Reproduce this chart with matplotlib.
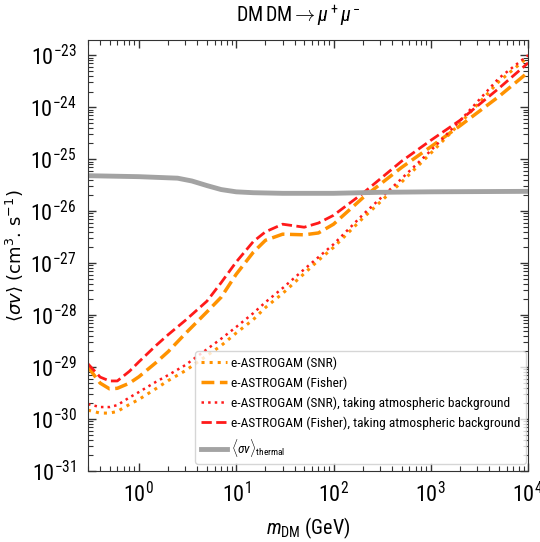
import numpy as np
import matplotlib
matplotlib.use("Agg")
import matplotlib.pyplot as plt
from matplotlib.ticker import LogLocator, NullFormatter

NARROW = "Roboto Condensed"
plt.rcParams["font.family"] = [NARROW, "DejaVu Sans"]
plt.rcParams["mathtext.fontset"] = "custom"
plt.rcParams["mathtext.rm"] = NARROW
plt.rcParams["mathtext.it"] = NARROW + ":italic"
plt.rcParams["mathtext.bf"] = NARROW + ":bold"

# Dark-matter mass grid (GeV)
mass = [0.3, 0.4, 0.5, 0.6, 0.8, 1.0, 1.5, 2.0, 3.0, 5.0, 7.0, 10.0, 15.0, 20.0,
        30.0, 50.0, 70.0, 100.0, 200.0, 500.0, 1000.0, 2000.0, 5000.0, 10000.0]

# Upper limits on <sigma v> (cm^3 s^-1)
snr = [1.48e-30, 1.30e-30, 1.30e-30, 1.40e-30, 1.91e-30, 2.38e-30, 3.85e-30,
       5.48e-30, 8.5e-30, 1.66e-29, 2.58e-29, 4.52e-29, 8.2e-29, 1.4e-28,
       2.6e-28, 6.3e-28, 1.13e-27, 2.0e-27, 7.3e-27, 3.6e-26, 1.3e-25,
       4.9e-25, 3.1e-24, 9.2e-24]
fisher = [1.0e-29, 4.9e-30, 3.8e-30, 3.9e-30, 4.9e-30, 6.5e-30, 1.22e-29,
          1.98e-29, 4.4e-29, 1.15e-28, 2.2e-28, 6.1e-28, 1.62e-27, 2.75e-27,
          3.6e-27, 3.5e-27, 3.8e-27, 5.6e-27, 1.8e-26, 6.9e-26, 1.73e-25,
          4.4e-25, 1.6e-24, 4.7e-24]
snr_atm = [1.93e-30, 1.70e-30, 1.70e-30, 1.85e-30, 2.6e-30, 3.3e-30, 5.2e-30,
           7.0e-30, 1.09e-29, 2.2e-29, 3.5e-29, 5.9e-29, 1.09e-28, 1.77e-28,
           3.3e-28, 7.6e-28, 1.3e-27, 2.3e-27, 8.5e-27, 4.2e-26, 1.46e-25,
           5.5e-25, 3.6e-24, 1.0e-23]
fisher_atm = [1.15e-29, 6.4e-30, 5.4e-30, 5.4e-30, 8.3e-30, 1.26e-29, 2.6e-29,
              4.2e-29, 7.9e-29, 1.85e-28, 4.2e-28, 1.05e-27, 2.6e-27, 4.0e-27,
              5.6e-27, 4.9e-27, 5.9e-27, 8.3e-27, 2.2e-26, 9.1e-26, 2.3e-25,
              5.6e-25, 2.3e-24, 7.1e-24]

# Thermal-relic cross section
thermal_mass = [0.3, 1.0, 2.5, 3.5, 5.0, 7.0, 10.0, 15.0, 30.0, 100.0, 300.0,
                1000.0, 10000.0]
thermal_sv = [4.8e-26, 4.6e-26, 4.3e-26, 3.8e-26, 3.1e-26, 2.6e-26, 2.35e-26,
              2.26e-26, 2.2e-26, 2.2e-26, 2.3e-26, 2.35e-26, 2.4e-26]

ORANGE = "#ff9200"
RED = "#ff1a1a"

fig = plt.figure(figsize=(5.40, 5.42), dpi=100)
ax = fig.add_axes([0.163, 0.131, 0.815, 0.795])

ax.plot(mass, snr, ls=":", color=ORANGE, lw=2.2, label="e-ASTROGAM (SNR)")
ax.plot(mass, fisher, ls="--", color=ORANGE, lw=2.5, label="e-ASTROGAM (Fisher)")
ax.plot(mass, snr_atm, ls=":", color=RED, lw=1.8,
        label="e-ASTROGAM (SNR), taking atmospheric background")
ax.plot(mass, fisher_atm, ls="--", color=RED, lw=2.0,
        label="e-ASTROGAM (Fisher), taking atmospheric background")
ax.plot(thermal_mass, thermal_sv, ls="-", color="#a3a3a3", lw=3.5,
        label=r"$\langle\sigma v\rangle_{\rm thermal}$")

ax.set_xscale("log")
ax.set_yscale("log")
ax.set_xlim(0.3, 1e4)
ax.set_ylim(1e-31, 10 ** -22.71)

ax.yaxis.set_major_locator(LogLocator(base=10, numticks=20))
ax.yaxis.set_minor_locator(LogLocator(base=10, subs=np.arange(2, 10), numticks=100))
ax.yaxis.set_minor_formatter(NullFormatter())
ax.xaxis.set_minor_formatter(NullFormatter())

ax.tick_params(which="both", direction="in", top=True, right=True,
               labelsize=16, color="#333333")
ax.tick_params(which="major", length=6, width=1.0, pad=8)
ax.tick_params(which="minor", length=3.5, width=0.8)
for s in ax.spines.values():
    s.set_color("#333333")

ax.set_title(r"DM$\,$DM$\rightarrow\mu^+\mu^-$", fontsize=14.5, pad=13, x=0.477)
ax.set_xlabel(r"$m_{\rm DM}$ (GeV)", fontsize=14.5, labelpad=6)
ax.set_ylabel(r"$\langle\sigma v\rangle$ (cm$^3$. s$^{-1}$)", fontsize=13,
              family="DejaVu Sans", math_fontfamily="dejavusans", labelpad=4)

ax.legend(loc="lower right", bbox_to_anchor=(0.995, 0.016), borderaxespad=0,
          fontsize=9.6, handlelength=2.0, labelspacing=0.5,
          handletextpad=0.3, borderpad=0.4)

fig.savefig("out.png", dpi=100)
